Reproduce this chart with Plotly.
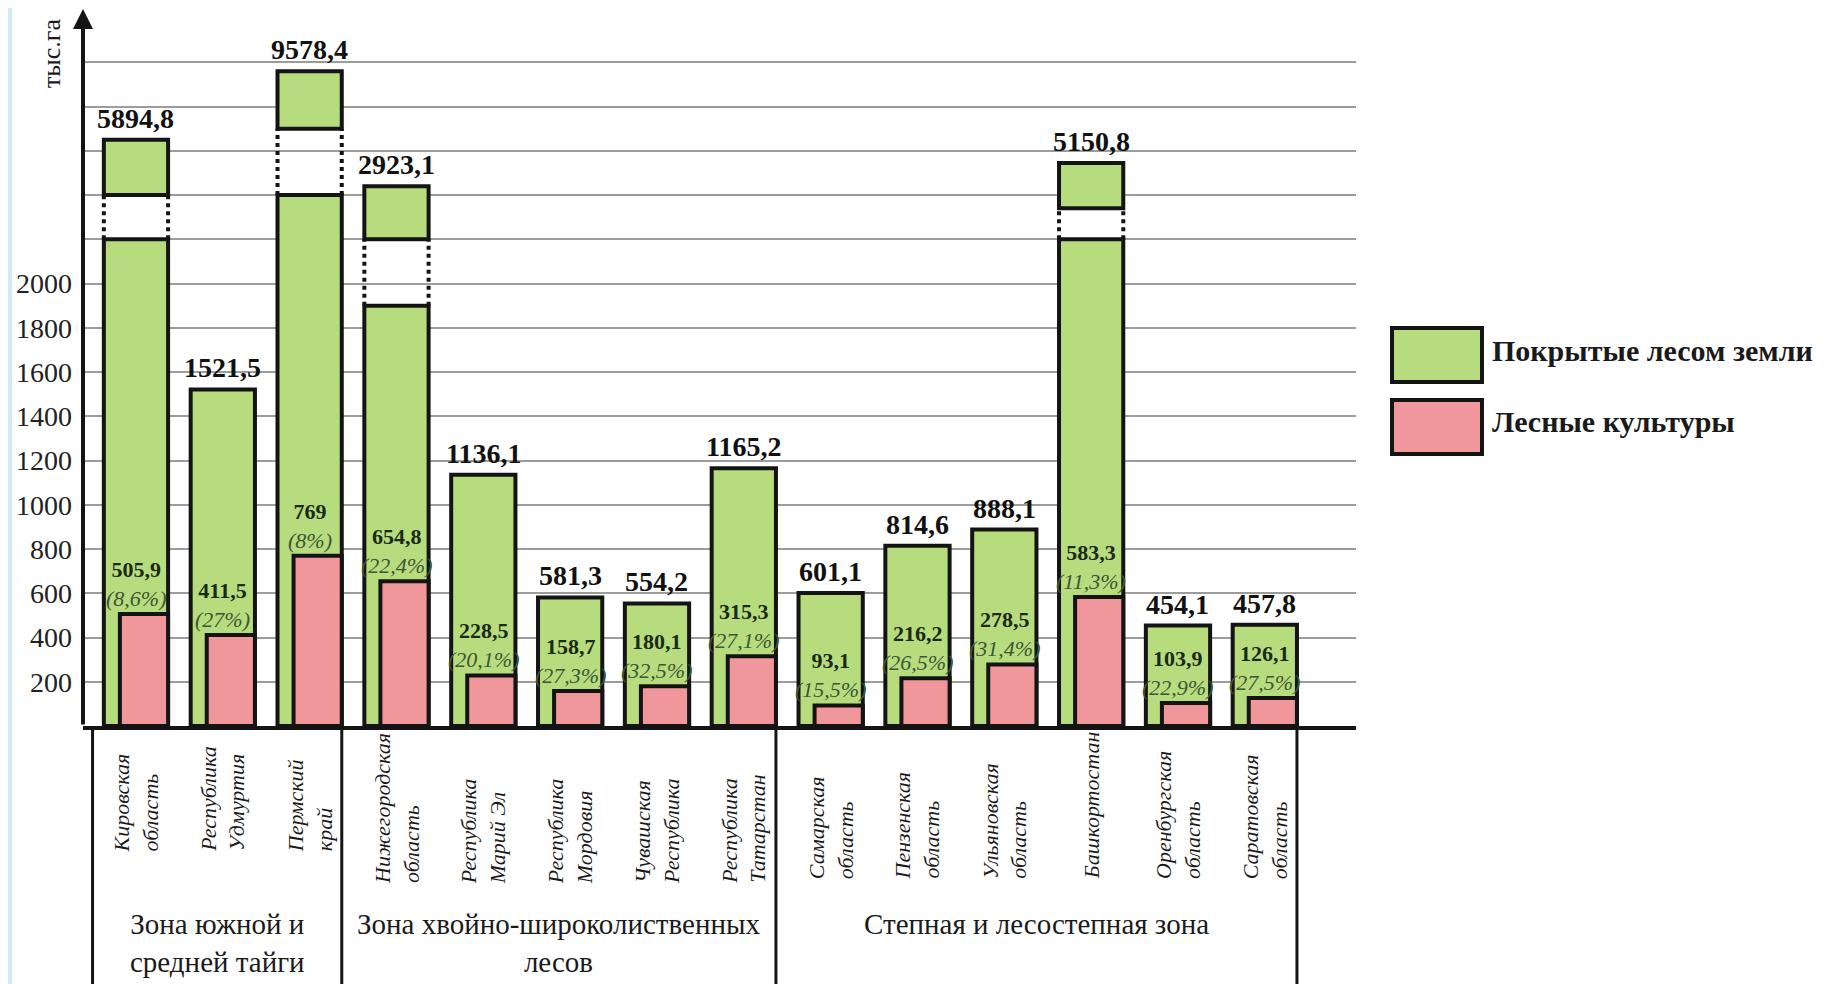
import plotly.graph_objects as go

# ---- data -------------------------------------------------------------
REGIONS = [
    "Кировская<br>область", "Республика<br>Удмуртия", "Пермский<br>край",
    "Нижегородская<br>область", "Республика<br>Марий Эл", "Республика<br>Мордовия",
    "Чувашская<br>Республика", "Республика<br>Татарстан",
    "Самарская<br>область", "Пензенская<br>область", "Ульяновская<br>область",
    "Башкортостан", "Оренбургская<br>область", "Саратовская<br>область",
]
FOREST_LAND = [5894.8, 1521.5, 9578.4, 2923.1, 1136.1, 581.3, 554.2, 1165.2,
               601.1, 814.6, 888.1, 5150.8, 454.1, 457.8]
FOREST_CULTURES = [505.9, 411.5, 769, 654.8, 228.5, 158.7, 180.1, 315.3,
                   93.1, 216.2, 278.5, 583.3, 103.9, 126.1]
CULTURE_SHARE = [8.6, 27, 8, 22.4, 20.1, 27.3, 32.5, 27.1,
                 15.5, 26.5, 31.4, 11.3, 22.9, 27.5]

ZONES = ["Зона южной и<br>средней тайги",
         "Зона хвойно-широколиственных<br>лесов",
         "Степная и лесостепная зона"]
ZONE_SIZES = [3, 5, 6]

Y_GRID = list(range(200, 3001, 200))
Y_LABELLED = list(range(200, 2001, 200))

# broken bars: (level where the bar is cut, top of dotted gap, top of upper box) in axis units
BREAKS = {0: (2200, 2400, 2650), 2: (2400, 2700, 2960),
          3: (1900, 2200, 2440), 11: (2200, 2340, 2545)}

# ---- style ------------------------------------------------------------
GREEN = "#b7dc7d"
PINK = "#ef979b"
EDGE = "#141414"
FONT = "Liberation Serif, Times New Roman, serif"
BAR_W = 0.74
PINK_W = 0.555
LINE_W = 4

OFF = 8                      # page body margin of the html file
W, H = 1831 - OFF, 984 - OFF
PL, PR, PT, PB = 83, 1356, 8, 726  # plot area in page pixels


def px_x(p):
    return (p - PL) / (PR - PL)


def px_y(p):
    return (PB - p) / (PB - PT)


def fmt(v):
    return f"{v:.1f}".rstrip("0").rstrip(".").replace(".", ",")


x = list(range(len(REGIONS)))
main_h = [BREAKS[i][0] if i in BREAKS else v for i, v in enumerate(FOREST_LAND)]
tops = [BREAKS[i][2] if i in BREAKS else v for i, v in enumerate(FOREST_LAND)]
bx = list(BREAKS)

bar_line = dict(color=EDGE, width=LINE_W)
fig = go.Figure()
fig.add_trace(go.Bar(x=x, y=main_h, width=BAR_W, offset=-BAR_W / 2,
                     marker=dict(color=GREEN, line=bar_line), name="Покрытые лесом земли"))
fig.add_trace(go.Bar(x=bx, y=[BREAKS[i][2] - BREAKS[i][1] for i in bx],
                     base=[BREAKS[i][1] for i in bx], width=BAR_W, offset=-BAR_W / 2,
                     marker=dict(color=GREEN, line=bar_line), showlegend=False))

# dotted connectors across the break
dx, dy = [], []
for i in bx:
    for side in (-1, 1):
        dx += [i + side * BAR_W / 2] * 2 + [None]
        dy += [BREAKS[i][0], BREAKS[i][1], None]
fig.add_trace(go.Scatter(x=dx, y=dy, mode="lines",
                         line=dict(color=EDGE, width=LINE_W, dash="dot"), showlegend=False))

fig.add_trace(go.Bar(x=x, y=FOREST_CULTURES, width=PINK_W, offset=BAR_W / 2 - PINK_W,
                     marker=dict(color=PINK, line=bar_line), name="Лесные культуры"))

ann = []
for i in x:
    ann.append(dict(x=i, y=tops[i], xref="x", yref="y", yanchor="bottom", yshift=4,
                    text=f"<b>{fmt(FOREST_LAND[i])}</b>", showarrow=False,
                    font=dict(family=FONT, size=28, color="#111")))
    ann.append(dict(x=i, y=FOREST_CULTURES[i], xref="x", yref="y", yanchor="bottom", yshift=1,
                    text=f"<b>{fmt(FOREST_CULTURES[i])}</b><br>"
                         f"<i><span style='color:#3d5637'>({fmt(CULTURE_SHARE[i])}%)</span></i>",
                    showarrow=False, font=dict(family=FONT, size=22, color="#1b2a17")))

# zone frames and labels below the axis
shapes = []
label_bottom = [854, 886, 881]
start = 0
shapes.append(dict(type="line", xref="x", yref="paper", x0=-0.5, x1=-0.5,
                   y0=0, y1=px_y(H + OFF + 5), line=dict(color=EDGE, width=3)))
prev = -0.5
for z, (zname, n) in enumerate(zip(ZONES, ZONE_SIZES)):
    edge = start + n - 1 + BAR_W / 2
    shapes.append(dict(type="line", xref="x", yref="paper", x0=edge, x1=edge,
                       y0=0, y1=px_y(H + OFF + 5), line=dict(color=EDGE, width=3)))
    ann.append(dict(x=(prev + edge) / 2, y=px_y(906), xref="x", yref="paper",
                    yanchor="top", text=zname, showarrow=False,
                    font=dict(family=FONT, size=29, color="#1a1a1a")))
    for i in range(start, start + n):
        ann.append(dict(x=i, y=px_y(label_bottom[z]), xref="x", yref="paper",
                        xanchor="center", yanchor="bottom", textangle=-90, align="left",
                        text=f"<i>{REGIONS[i]}</i>", showarrow=False,
                        font=dict(family=FONT, size=22, color="#1a1a1a")))
    prev = edge
    start += n

# y axis arrow and unit
ann.append(dict(x=0, y=px_y(8), xref="paper", yref="paper", ax=0, ay=PB - 8,
                axref="pixel", ayref="pixel", text="", showarrow=True,
                arrowhead=2, arrowsize=1, arrowwidth=4, arrowcolor=EDGE))
ann.append(dict(x=px_x(51), y=px_y(53), xref="paper", yref="paper", textangle=-90,
                xanchor="center", yanchor="middle", text="тыс.га", showarrow=False,
                font=dict(family=FONT, size=26, color="#1a1a1a")))

# legend drawn by hand (large swatches)
for (name, color), top in zip([("Покрытые лесом земли", GREEN), ("Лесные культуры", PINK)],
                              [328, 400]):
    shapes.append(dict(type="rect", xref="paper", yref="paper",
                       x0=px_x(1392), x1=px_x(1482), y0=px_y(top), y1=px_y(top + 54),
                       fillcolor=color, line=dict(color=EDGE, width=4)))
    ann.append(dict(x=px_x(1490), y=px_y(top + 22), xref="paper", yref="paper",
                    xanchor="left", yanchor="middle", text=f"<b>{name}</b>", showarrow=False,
                    font=dict(family=FONT, size=30, color="#1a1a1a")))

# white sheet on the light blue page
shapes.insert(0, dict(type="rect", xref="paper", yref="paper", layer="below",
                      x0=px_x(12), x1=px_x(1826), y0=px_y(6), y1=px_y(H + OFF + 10),
                      fillcolor="white", line=dict(width=0)))

fig.update_layout(
    width=W, height=H, barmode="overlay", showlegend=False,
    margin=dict(l=PL - OFF, r=W + OFF - PR, t=PT - OFF, b=H + OFF - PB, pad=0),
    paper_bgcolor="#d4eaf3", plot_bgcolor="white",
    font=dict(family=FONT, color="#1a1a1a"),
    annotations=ann, shapes=shapes,
    xaxis=dict(range=[-0.61, 14.05], showticklabels=False, showgrid=False, zeroline=False,
               showline=True, linecolor=EDGE, linewidth=4, ticks=""),
    yaxis=dict(range=[0, (PB - PT) / 0.22123], tickvals=Y_GRID,
               ticktext=[str(v) if v in Y_LABELLED else "" for v in Y_GRID],
               showgrid=True, gridcolor="#9c9c9c", gridwidth=2, zeroline=False,
               showline=False, ticks="", ticklabelstandoff=10,
               tickfont=dict(family=FONT, size=28, color="#222")),
)

fig.write_html("out.html")
